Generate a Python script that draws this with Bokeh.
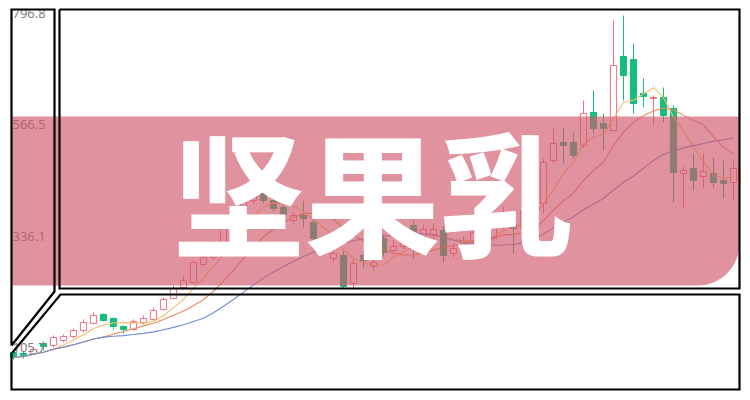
import numpy as np
import pandas as pd
from bokeh.plotting import figure
from bokeh.models import Range1d
from bokeh.core.properties import value
from bokeh.embed import file_html
from bokeh.resources import INLINE

# ---------------- data ----------------
title_text = "坚果乳"
tick_values = [796.8, 566.5, 336.1, 105.7]
tick_labels = ["796.8", "566.5", "336.1", "105.7"]

opens = [95.4, 93.3, 93.3, 114.0, 109.9, 120.2, 128.5, 140.9, 155.4, 174.0,
         165.8, 149.2, 143.0, 157.5, 163.7, 184.4, 207.1, 229.9, 240.2, 277.5,
         292.0, 318.9, 352.0, 385.1, 409.9, 424.4, 409.9, 395.4, 368.5, 378.9,
         364.4, 331.3, 289.9, 296.1, 238.2, 296.1, 273.3, 331.3, 306.4, 314.7,
         358.2, 335.4, 339.6, 347.8, 300.2, 306.4, 325.1, 343.7, 331.3, 356.1,
         360.2, 352.0, 385.1, 403.7, 492.7, 529.9, 529.9, 523.7, 592.0, 569.2,
         554.7, 707.8, 701.6, 631.3, 620.9, 623.0, 600.2, 465.8, 476.1, 459.6,
         465.8, 451.3, 447.1]
highs = [99.5, 97.5, 105.8, 118.2, 130.6, 132.7, 145.1, 163.7, 178.2, 176.1,
         167.8, 151.3, 163.7, 172.0, 188.5, 209.2, 234.0, 254.7, 285.8, 302.3,
         327.1, 360.2, 393.3, 420.2, 438.9, 434.7, 418.2, 401.6, 385.1, 409.9,
         374.7, 337.5, 308.5, 306.4, 289.9, 302.3, 289.9, 339.6, 327.1, 347.8,
         368.5, 360.2, 360.2, 356.1, 320.9, 335.4, 352.0, 356.1, 368.5, 397.5,
         383.0, 399.6, 414.0, 496.8, 558.9, 560.9, 550.6, 616.8, 637.5, 589.9,
         782.3, 792.7, 734.7, 662.3, 627.1, 643.7, 606.5, 482.3, 507.1, 507.1,
         498.9, 492.7, 492.7]
lows = [80.9, 83.0, 89.2, 99.5, 105.8, 116.1, 124.4, 136.8, 153.3, 159.6,
        143.0, 134.7, 140.9, 153.3, 161.6, 182.3, 205.1, 225.7, 236.1, 273.3,
        287.8, 314.7, 347.8, 380.9, 403.7, 403.7, 387.1, 376.8, 362.3, 354.0,
        325.1, 300.2, 281.6, 227.8, 225.7, 269.2, 265.1, 294.0, 300.2, 308.5,
        289.9, 327.1, 331.3, 281.6, 292.0, 300.2, 316.8, 323.0, 325.1, 349.9,
        300.2, 343.7, 376.8, 383.0, 486.5, 486.5, 496.8, 519.6, 548.5, 513.3,
        552.7, 616.8, 589.9, 602.3, 565.1, 571.3, 405.8, 395.4, 430.6, 434.7,
        436.8, 414.0, 409.9]
closes = [85.1, 89.2, 101.6, 107.8, 126.4, 128.5, 140.9, 157.5, 172.0, 161.6,
          149.2, 143.0, 159.6, 165.8, 182.3, 205.1, 227.8, 244.4, 281.6, 292.0,
          318.9, 352.0, 385.1, 409.9, 426.5, 409.9, 393.3, 380.9, 378.9, 372.7,
          331.3, 306.4, 300.2, 232.0, 279.6, 285.8, 281.6, 302.3, 314.7, 335.4,
          337.5, 349.9, 349.9, 296.1, 310.6, 327.1, 343.7, 331.3, 358.2, 378.9,
          352.0, 389.2, 403.7, 488.5, 527.8, 523.7, 503.0, 589.9, 558.9, 558.9,
          689.2, 668.5, 610.6, 625.1, 623.0, 585.8, 467.8, 472.0, 451.3, 469.9,
          447.1, 445.1, 476.1]
ma_periods = [5, 10, 20]

# ---------------- styles ----------------
UP = "#EE7282"
DOWN = "#16BC7C"
MA_COLORS = ["#F4BE6A", "#EE8A5A", "#6E8ED8"]

df = pd.DataFrame({"open": opens, "high": highs, "low": lows, "close": closes})
df["i"] = np.arange(len(df))
up = df[df.close >= df.open]
dn = df[df.close < df.open]

W, H = 750, 400
p = figure(width=W, height=H, output_backend="svg", toolbar_location=None,
           x_range=Range1d(-1.3, 73.7), y_range=Range1d(-4.0, 823.7),
           x_axis_type=None, y_axis_type=None, min_border=0,
           background_fill_color="white", border_fill_color="white",
           outline_line_color=None)
p.grid.visible = False
p.extra_x_ranges = {"px": Range1d(0, W)}
p.extra_y_ranges = {"px": Range1d(H, 0)}

# wicks
p.segment(x0=up.i, y0=up.low, x1=up.i, y1=up.high, line_color=UP, line_width=1)
p.segment(x0=dn.i, y0=dn.low, x1=dn.i, y1=dn.high, line_color=DOWN, line_width=1)
# bodies
p.vbar(x=up.i, width=0.62, top=up.close, bottom=up.open, fill_color="white",
       line_color=UP, line_width=1)
p.vbar(x=dn.i, width=0.62, top=dn.open, bottom=dn.close, fill_color=DOWN,
       line_color=DOWN, line_width=1)

# moving averages
for per, col in zip(ma_periods, MA_COLORS):
    ma = df.close.rolling(per, min_periods=1).mean()
    p.line(df.i, ma, line_color=col, line_width=1.1)

# price labels
p.text(x=[12] * len(tick_values), y=tick_values, text=tick_labels,
       x_range_name="px", text_font=value("Noto Sans"), text_font_size="13px",
       text_color="#808080", text_align="left", text_baseline="middle")

# red band with rounded bottom-right corner
bx0, bx1, by0, by1, r = 11, 739, 116, 285, 42
ang = np.linspace(0, np.pi / 2, 20)
arc_x = list(bx1 - r + r * np.cos(ang))
arc_y = list(by1 - r + r * np.sin(ang))
band_x = [bx0, bx1] + arc_x + [bx0]
band_y = [by0, by0] + arc_y + [by1]
p.patch(band_x, band_y, x_range_name="px", y_range_name="px",
        fill_color="#D0596A", fill_alpha=0.65, line_color=None)

# big title
p.text(x=[171], y=[188], text=[title_text], x_range_name="px", y_range_name="px",
       text_font=value("Noto Sans CJK SC"), text_font_size="134px",
       text_font_style="bold", text_color="white", text_align="left",
       text_baseline="middle", text_outline_color="white")

# decorative black frames
frame_xs = [[59, 739, 739, 59, 59],
            [11, 54, 54, 11, 11],
            [12, 60, 739, 739, 11, 11]]
frame_ys = [[9, 9, 288, 288, 9],
            [345, 291, 9, 9, 345],
            [352, 294, 294, 389, 389, 352]]
p.multi_line(frame_xs, frame_ys, x_range_name="px", y_range_name="px",
             line_color="black", line_width=2.2, line_join="miter")

open("out.html", "w").write(file_html(p, INLINE))
